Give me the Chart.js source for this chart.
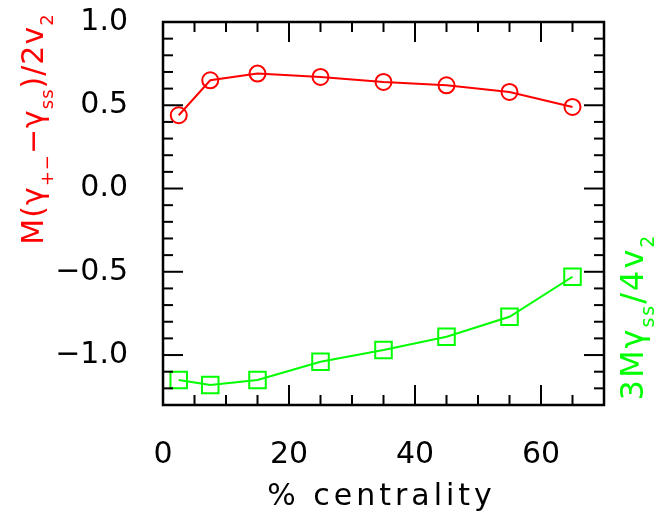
<!DOCTYPE html>
<html><head><meta charset="utf-8">
<script src="https://cdn.jsdelivr.net/npm/chart.js@4.4.1/dist/chart.umd.min.js"></script>
<style>html,body{margin:0;padding:0;background:#fff;}#wrap{width:657px;height:516px;position:relative;}</style>
</head><body><div id="wrap"><canvas id="c"></canvas></div>
<script>
const centrality = [2.5, 7.5, 15, 25, 35, 45, 55, 65];
const gammaDiff = [0.44, 0.65, 0.69, 0.67, 0.64, 0.62, 0.58, 0.49];
const gammaSS = [-1.15, -1.18, -1.15, -1.04, -0.97, -0.89, -0.77, -0.53];
const xTicks = [0, 20, 40, 60];
const yTicks = [-1.0, -0.5, 0.0, 0.5, 1.0];
const xTitle = '% centrality';
const leftTitle = [['M(γ',0],['+−',1],['−γ',0],['ss',1],[')/2v',0],['2',1]];
const rightTitle = [['3Mγ',0],['ss',1],['/4v',0],['2',1]];

const FONT = '"DejaVu Sans", sans-serif';
const W = 'normal';

function drawRich(ctx, parts, cx, baseY, mainSize, subSize, subDrop, ls) {
  let total = 0;
  ctx.letterSpacing = ls + 'px';
  parts.forEach(([t, s]) => { ctx.font = W + ' ' + (s ? subSize : mainSize) + 'px ' + FONT; total += ctx.measureText(t).width; });
  let x = cx - total / 2;
  ctx.textAlign = 'left';
  ctx.textBaseline = 'alphabetic';
  parts.forEach(([t, s]) => {
    ctx.font = W + ' ' + (s ? subSize : mainSize) + 'px ' + FONT;
    ctx.fillText(t, x, baseY + (s ? subDrop : 0));
    x += ctx.measureText(t).width;
  });
}

const framePlugin = {
  id: 'frame',
  afterDraw(chart) {
    const {ctx, chartArea: a, scales: {x, y}} = chart;
    ctx.save();
    ctx.strokeStyle = '#000';
    ctx.lineWidth = 2;
    const seg = (x1, y1, x2, y2) => { ctx.beginPath(); ctx.moveTo(x1, y1); ctx.lineTo(x2, y2); ctx.stroke(); };
    for (let i = 0; i <= Math.round(x.max / 5); i++) {
      const v = i * 5, px = x.getPixelForValue(v);
      const len = (v % 20 === 0) ? 20 : 10;
      seg(px, a.bottom, px, a.bottom - len);
      seg(px, a.top, px, a.top + len);
    }
    for (let i = Math.round(y.min * 10); i <= Math.round(y.max * 10); i++) {
      const py = y.getPixelForValue(i / 10);
      const len = (i % 5 === 0) ? 20 : 10;
      seg(a.left, py, a.left + len, py);
      seg(a.right, py, a.right - len, py);
    }
    ctx.lineWidth = 2.5;
    ctx.strokeRect(a.left, a.top, a.right - a.left, a.bottom - a.top);

    // x title
    ctx.fillStyle = '#000';
    ctx.font = W + ' 30px ' + FONT;
    ctx.letterSpacing = '4px';
    ctx.textAlign = 'center';
    ctx.textBaseline = 'alphabetic';
    ctx.fillText(xTitle, (a.left + a.right) / 2 - 2, 505);

    // left title
    ctx.save();
    ctx.translate(43, 129);
    ctx.rotate(-Math.PI / 2);
    ctx.fillStyle = '#ff0000';
    drawRich(ctx, leftTitle, 0, 0, 30, 18, 10, 1);
    ctx.restore();

    // right title
    ctx.save();
    ctx.translate(643, 317);
    ctx.rotate(-Math.PI / 2);
    ctx.fillStyle = '#00ff00';
    drawRich(ctx, rightTitle, 0, 0, 32, 19, 11, 2);
    ctx.restore();
    ctx.restore();
  }
};

const fmt = v => v.toFixed(1).replace('-', '−');

new Chart(document.getElementById('c'), {
  type: 'scatter',
  data: {
    datasets: [
      {
        data: centrality.map((c, i) => ({x: c, y: gammaDiff[i]})),
        showLine: true, borderColor: '#ff0000', borderWidth: 2,
        pointStyle: 'circle', pointRadius: 8, pointBorderWidth: 2,
        pointBorderColor: '#ff0000', pointBackgroundColor: 'rgba(0,0,0,0)',
        backgroundColor: 'rgba(0,0,0,0)', tension: 0, clip: false
      },
      {
        data: centrality.map((c, i) => ({x: c, y: gammaSS[i]})),
        showLine: true, borderColor: '#00ff00', borderWidth: 2,
        pointStyle: 'rect', pointRadius: 11.7, pointBorderWidth: 2,
        pointBorderColor: '#00ff00', pointBackgroundColor: 'rgba(0,0,0,0)',
        backgroundColor: 'rgba(0,0,0,0)', tension: 0, clip: false
      }
    ]
  },
  options: {
    responsive: true, maintainAspectRatio: false, animation: false,
    layout: {padding: {top: 22, right: 53, left: 0, bottom: 0}},
    plugins: {legend: {display: false}, tooltip: {enabled: false}},
    scales: {
      x: {
        type: 'linear', min: 0, max: 70,
        grid: {display: false, drawTicks: false}, border: {display: false},
        ticks: {font: {family: FONT, size: 30, weight: W}, color: '#000', padding: 32, maxRotation: 0, autoSkip: false, callback: v => String(v)},
        afterBuildTicks: s => { s.ticks = xTicks.map(v => ({value: v})); },
        afterFit: s => { s.height = 111; }
      },
      y: {
        type: 'linear', min: -1.3, max: 1.0,
        grid: {display: false, drawTicks: false}, border: {display: false},
        ticks: {font: {family: FONT, size: 30, weight: W}, color: '#000', padding: 35, autoSkip: false, callback: v => fmt(v)},
        afterBuildTicks: s => { s.ticks = yTicks.map(v => ({value: v})); },
        afterFit: s => { s.width = 163; s.paddingTop = 0; s.paddingBottom = 0; }
      }
    }
  },
  plugins: [framePlugin]
});
</script>
</body></html>
